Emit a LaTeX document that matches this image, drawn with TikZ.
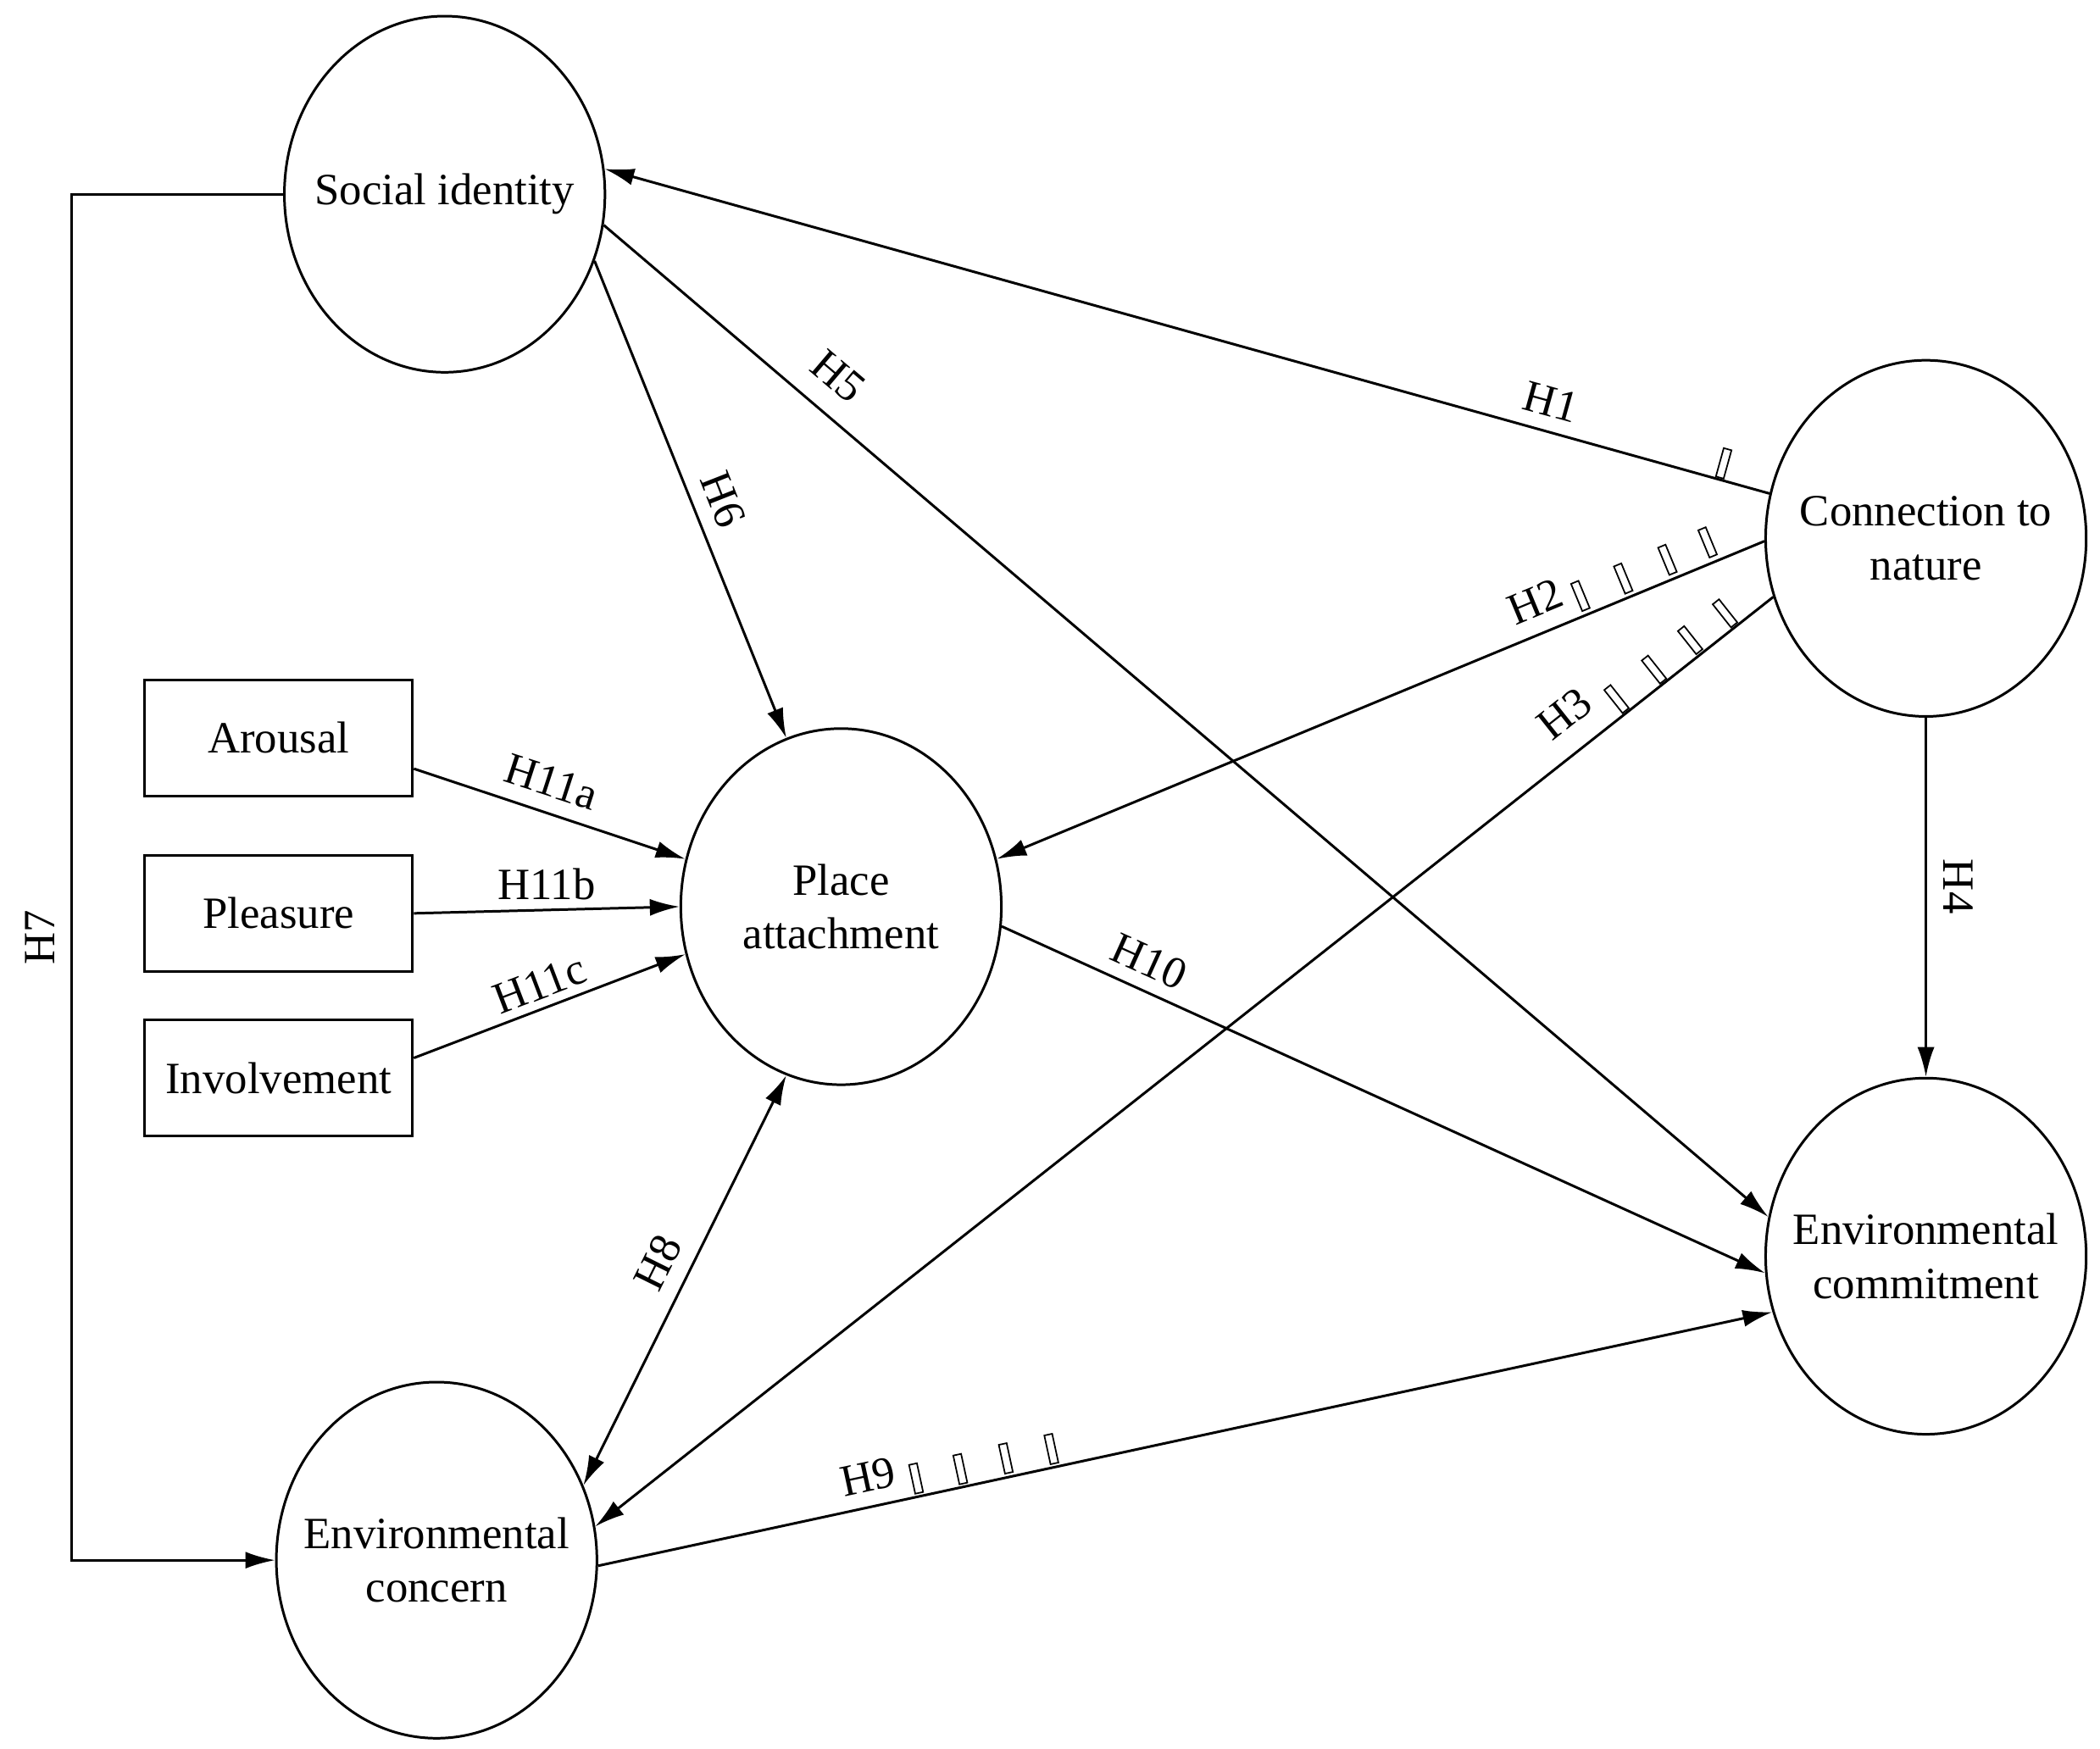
\documentclass[tikz,border=0pt]{standalone}
\usepackage{fontspec}
\setmainfont{Liberation Serif}
\usetikzlibrary{shapes.geometric,arrows.meta,calc}
\begin{document}
\begin{tikzpicture}[x=0.0158cm,y=-0.0158cm,
  every node/.style={font=\fontsize{15}{18}\selectfont},
  lat/.style={draw,ellipse,line width=0.85pt,inner sep=0pt,minimum width=3.78cm,minimum height=4.2cm},
  txt/.style={align=center,inner sep=0pt},
  box/.style={draw,rectangle,line width=0.85pt,minimum width=3.16cm,minimum height=1.37cm},
  arr/.style={line width=0.85pt,-{Latex[length=3.5mm,width=2mm]}},
  barr/.style={line width=0.85pt,{Latex[length=3.5mm,width=2mm]}-{Latex[length=3.5mm,width=2mm]}},
  lbl/.style={inner sep=1pt},
  tick/.style={line width=0.5pt}]
\useasboundingbox (0,0) rectangle (1568,1306);
\node[lat] (si) at (332,145) {};
\node[lat] (cn) at (1438,402) {};
\node[lat] (pa) at (628,677) {};
\node[lat] (cm) at (1438,938) {};
\node[lat] (ec) at (326,1165) {};
\node[txt] (tsi) at (si) {Social identity};
\node[txt] (tcn) at (cn) {Connection to\\nature};
\node[txt] (tpa) at (pa) {Place\\attachment};
\node[txt] (tcm) at (cm) {Environmental\\commitment};
\node[txt] (tec) at (ec) {Environmental\\concern};
\node[box] (ar) at (208,551) {Arousal};
\node[box] (pl) at (208,682) {Pleasure};
\node[box] (iv) at (208,805) {Involvement};

\draw[arr] (cn.164) -- (si.9);
\draw[arr] (cn.181) -- (pa.17);
\draw[arr] (cn.201) -- (ec.12);
\draw[arr] (cn.south) -- (cm.north);
\draw[arr] (si.-11) -- (cm.166);
\draw[arr] (si.-24) -- (pa.108);
\draw[arr] (si.west) -- ++(-158,0) |- (ec.west);
\draw[barr] (ec.27) -- (pa.252);
\draw[arr] (ec.-2) -- (cm.200);
\draw[arr] (pa.-7) -- (cm.186);
\draw[arr] ($(ar.east)+(0,23)$) -- (pa.163);
\draw[arr] (pl.east) -- (pa.180);
\draw[arr] ($(iv.east)+(0,-15)$) -- (pa.197);

\node[lbl,rotate=-15.5] (l1) at (1158,300) {H1};
\node[lbl,rotate=22.5] (l2) at (1146,449) {H2};
\node[lbl,rotate=38.4] (l3) at (1168,533) {H3};
\node[lbl,rotate=-90] (l4) at (1462,662) {H4};
\node[lbl,rotate=-40.4] (l5) at (626,281) {H5};
\node[lbl,rotate=-68.5] (l6) at (540,373) {H6};
\node[lbl,rotate=90] (l7) at (30,700) {H7};
\node[lbl,rotate=63.6] (l8) at (491,943) {H8};
\node[lbl,rotate=12.2] (l9) at (648,1103) {H9};
\node[lbl,rotate=-24.3] (l10) at (858,718) {H10};
\node[lbl,rotate=-18] (l11a) at (412,584) {H11a};
\node[lbl] (l11b) at (408,660) {H11b};
\node[lbl,rotate=20.9] (l11c) at (403,735) {H11c};

\foreach \x/\y/\r in {1287/346/-15.5,
  1180/445/22.5,1212/432/22.5,1245/418/22.5,1275/405/22.5,
  1207/522/38.4,1235/500/38.4,1262/478/38.4,1288/458/38.4,
  684/1104/12.2,717/1097/12.2,751/1089/12.2,785/1082/12.2}
  \draw[tick,rotate around={\r:(\x,\y)}] (\x-3,\y-11) rectangle (\x+3,\y+11);
\end{tikzpicture}
\end{document}
